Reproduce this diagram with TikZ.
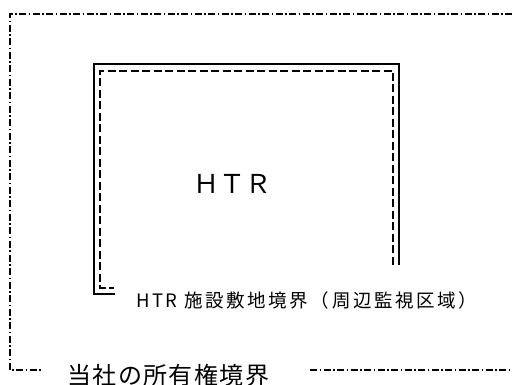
\documentclass[tikz,border=0pt]{standalone}
\usepackage{fontspec}
\newfontfamily\jpbig{Noto Sans CJK JP}
\newfontfamily\jplabel[LetterSpace=14]{Noto Sans CJK JP}
\newfontfamily\jpbottom[LetterSpace=6]{Noto Sans CJK JP}
\begin{document}
\begin{tikzpicture}[x=1pt,y=-1pt,
  owner/.style={line width=1.4pt,dash pattern=on 7pt off 2.5pt on 1.5pt off 2.5pt},
  wall/.style={line width=1.8pt},
  site/.style={line width=1.5pt,dash pattern=on 8pt off 3.5pt},
  lbl/.style={inner sep=0pt,text=black}]
\useasboundingbox (0,0) rectangle (512,385);
% owner boundary (dash-dot)
\coordinate (oTR) at (512,14);
\coordinate (oTL) at (10,14);
\coordinate (oBL) at (10,370);
\coordinate (oB1) at (42,370);
\coordinate (oB2) at (310,370);
\coordinate (oBR) at (512,370);
\draw[owner] (oTR) -- (oTL) -- (oBL) -- (oB1);
\draw[owner] (oB2) -- (oBR);
% HTR building outline (solid)
\coordinate (sR) at (399,265);
\coordinate (sTR) at (399,64);
\coordinate (sTL) at (94,64);
\coordinate (sBL) at (94,294);
\coordinate (sE) at (115,294);
\draw[wall] (sR) -- (sTR) -- (sTL) -- (sBL) -- (sE);
% site boundary (dashed)
\coordinate (dR) at (393,265);
\coordinate (dTR) at (393,71);
\coordinate (dTL) at (100,71);
\coordinate (dBL) at (100,288);
\coordinate (dE) at (114,288);
\draw[site] (dR) -- (dTR) -- (dTL) -- (dBL) -- (dE);
% texts
\node[lbl] (htr) at (232,184) {\jpbig\fontsize{26}{30}\selectfont ＨＴＲ};
\node[lbl,anchor=base west] (sitelbl) at (136,308) {\jplabel\fontsize{18.5}{22}\selectfont HTR 施設敷地境界（周辺監視区域）};
\node[lbl,anchor=base west] (ownerlbl) at (67,384) {\jpbottom\fontsize{24}{28}\selectfont 当社の所有権境界};
\end{tikzpicture}
\end{document}
